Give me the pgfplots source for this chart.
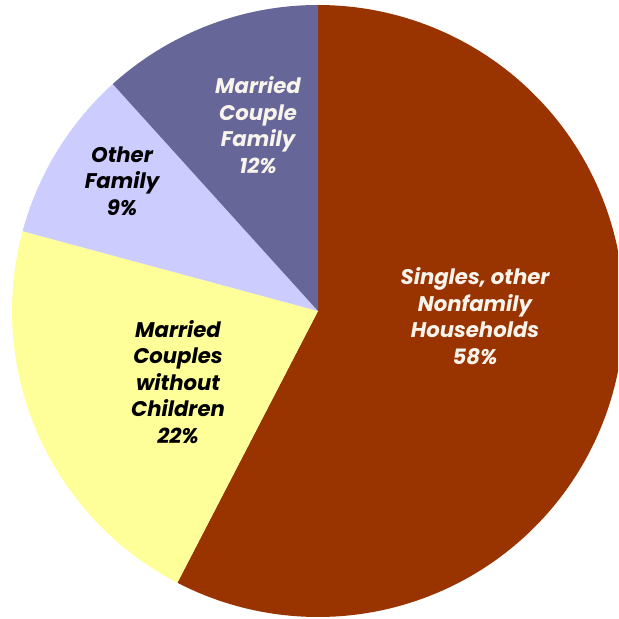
\documentclass[border=0pt]{standalone}
\usepackage{fontspec}
\setmainfont{Poppins}
\usepackage{pgfplots}
\pgfplotsset{compat=1.18}
\definecolor{cSingle}{HTML}{993300}
\definecolor{cNoKids}{HTML}{FFFF99}
\definecolor{cOther}{HTML}{CCCCFF}
\definecolor{cMCF}{HTML}{666699}
\definecolor{cLight}{HTML}{F8F4EC}
\tikzset{lab/.style={align=center, inner sep=0pt,
    font=\fontsize{10.6}{13.3}\selectfont\bfseries\itshape}}
% shares in percent (clockwise from 12 o'clock)
\def\pSingle{57.6}
\def\pNoKids{21.6}
\def\pOther{9.1}
\def\pMCF{11.7}
\def\R{306}
\newcommand{\slice}[3]{% start angle, percent, colour
  \pgfmathsetmacro\aend{#1-3.6*#2}%
  \edef\doslice{\noexpand\addplot[fill=#3, draw=none, domain=\aend:#1, samples=150]
    ({\R*cos(x)},{\R*sin(x)}) -- (0,0) -- cycle;}%
  \doslice
}
\begin{document}
\begin{tikzpicture}
\begin{axis}[
  x=0.5pt, y=0.5pt,
  xmin=-318, xmax=300, ymin=-308, ymax=311,
  axis line style={draw=none}, ticks=none,
  clip=true,
]
\pgfmathsetmacro\aA{90}
\slice{\aA}{\pSingle}{cSingle}
\pgfmathsetmacro\aB{\aA-3.6*\pSingle}
\slice{\aB}{\pNoKids}{cNoKids}
\pgfmathsetmacro\aC{\aB-3.6*\pNoKids}
\slice{\aC}{\pOther}{cOther}
\pgfmathsetmacro\aD{\aC-3.6*\pOther}
\slice{\aD}{\pMCF}{cMCF}
\node[lab, text=cLight] at (157,-5) {Singles, other\\Nonfamily\\Households\\58\%};
\node[lab, text=cLight] at (-60,186) {Married\\Couple\\Family\\12\%};
\node[lab, text=black] at (-196,130) {Other\\Family\\9\%};
\node[lab, text=black] at (-140,-71) {Married\\Couples\\without\\Children\\22\%};
\end{axis}
\end{tikzpicture}
\end{document}
